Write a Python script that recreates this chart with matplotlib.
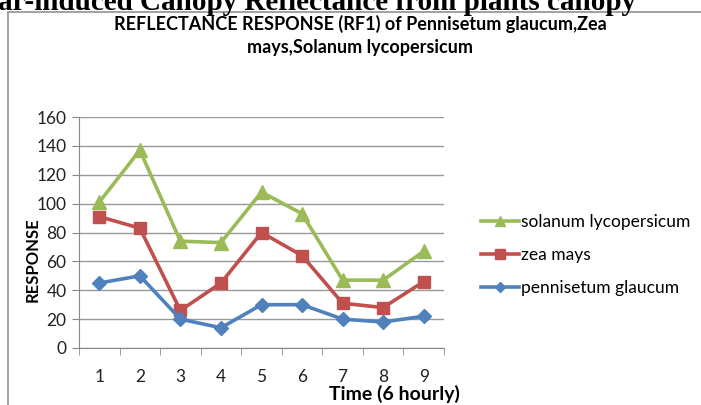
import numpy as np
import matplotlib
matplotlib.use("Agg")
import matplotlib.pyplot as plt
from matplotlib.patches import Rectangle

# data
time_steps = [1, 2, 3, 4, 5, 6, 7, 8, 9]
solanum = [101, 137, 74, 73, 108, 93, 47, 47, 67]
zea = [91, 83, 26, 45, 80, 64, 31, 28, 46]
pennisetum = [45, 50, 20, 14, 30, 30, 20, 18, 22]
y_ticks = [0, 20, 40, 60, 80, 100, 120, 140, 160]

W, H = 701, 405
fig = plt.figure(figsize=(W / 100, H / 100), dpi=100)
fig.patch.set_facecolor("white")

# chart frame (cut off at bottom/right like the scan)
fig.add_artist(Rectangle((8 / W, -0.05), 700 / W, 1.05 - 12 / H,
                         transform=fig.transFigure, fill=False,
                         edgecolor="#9a9a9a", lw=1.3, clip_on=False))

# clipped heading from the page above the chart
fig.text(-2 / W, 1 - 10 / H, "ar-induced Canopy Reflectance from plants canopy",
         family="Liberation Serif", weight="bold", fontsize=21, ha="left",
         va="baseline")

ax = fig.add_axes([79 / W, 1 - 348 / H, 365 / W, 231 / H])

ax.plot(time_steps, solanum, color="#9BBB59", lw=2.6, marker="^", ms=10,
        label="solanum lycopersicum", zorder=3)
ax.plot(time_steps, zea, color="#C0504D", lw=2.6, marker="s", ms=9,
        label="zea mays", zorder=3)
ax.plot(time_steps, pennisetum, color="#4F81BD", lw=2.6, marker="D", ms=7,
        label="pennisetum glaucum", zorder=3)

ax.set_xlim(0.5, 9.5)
ax.set_ylim(0, 160)
ax.set_yticks(y_ticks)
ax.set_xticks(time_steps)
ax.set_xticks(np.arange(0.5, 10, 1), minor=True)
ax.tick_params(axis="x", which="major", length=0, pad=15, labelsize=12.5,
               colors="#222222")
ax.tick_params(axis="x", which="minor", length=5, direction="out",
               color="#888888")
ax.tick_params(axis="y", length=5, direction="out", color="#888888",
               labelsize=12.5, colors="#222222", pad=4)
for lbl in ax.get_xticklabels() + ax.get_yticklabels():
    lbl.set_family("Lato")
ax.grid(axis="y", color="#999999", lw=1)
ax.set_axisbelow(True)
for s in ["top", "right"]:
    ax.spines[s].set_visible(False)
ax.spines["left"].set_color("#888888")
ax.spines["bottom"].set_color("#888888")

fig.text(33 / W, 1 - 260 / H, "RESPONSE", rotation=90, ha="center",
         va="center", family="Lato", weight="bold", fontsize=12)
fig.text(394 / W, 1 - 394 / H, "Time (6 hourly)", ha="center", va="center",
         family="Lato", weight="bold", fontsize=14)

fig.text(360 / W, 1 - 24 / H,
         "REFLECTANCE RESPONSE (RF1) of Pennisetum glaucum,Zea",
         ha="center", va="center", family="Lato", weight="bold", fontsize=13)
fig.text(360 / W, 1 - 47 / H, "mays,Solanum lycopersicum",
         ha="center", va="center", family="Lato", weight="bold", fontsize=13)

leg = fig.legend(loc="upper left", bbox_to_anchor=(465 / W, 1 - 198 / H),
                 frameon=False, prop={"family": "Lato", "size": 12.5},
                 handlelength=2.2, handletextpad=0.15, labelspacing=1.0,
                 markerscale=0.75)

fig.savefig("out.png", dpi=100)
